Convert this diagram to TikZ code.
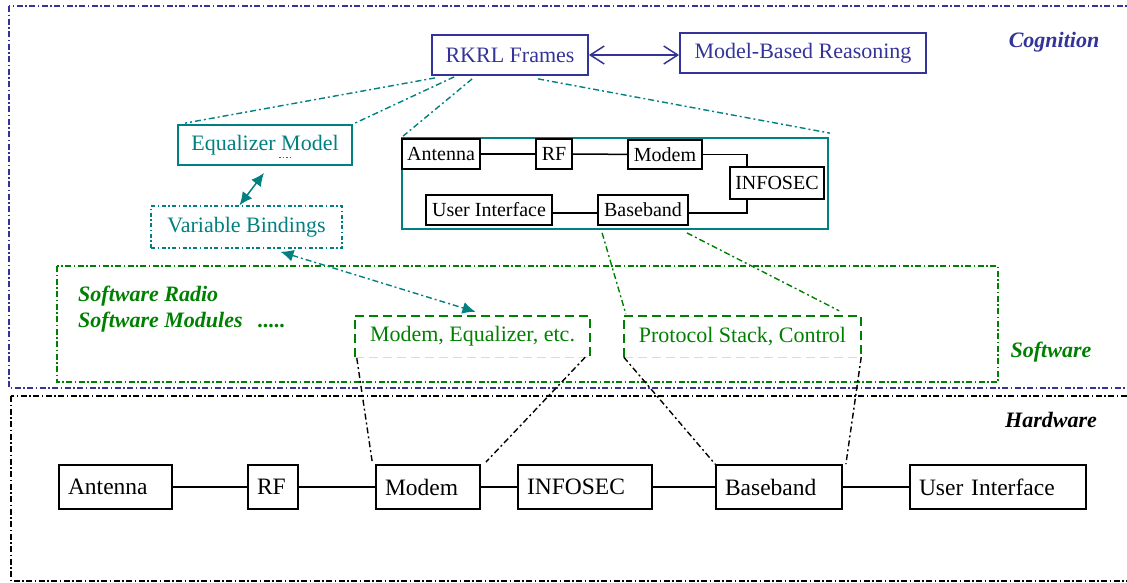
\documentclass[tikz,border=0pt]{standalone}
\usepackage{fontspec}
\setmainfont{Liberation Serif}
\usetikzlibrary{arrows.meta,calc}
\definecolor{cogblue}{RGB}{51,51,153}
\definecolor{kteal}{RGB}{0,128,128}
\definecolor{swgreen}{RGB}{0,128,0}
\begin{document}
\begin{tikzpicture}[x=1pt,y=-1pt,
  big/.style={font=\fontsize{22}{26}\selectfont},
  small/.style={font=\fontsize{20}{24}\selectfont},
  lbl/.style={font=\fontsize{22}{26}\selectfont\bfseries\itshape, inner sep=0pt},
  dashdot/.style={line width=1.5pt, dash pattern=on 6pt off 2.5pt on 1.5pt off 2.5pt},
  link/.style={line width=1.4pt, dash pattern=on 6pt off 3pt on 2pt off 3pt},
  box/.style={draw, line width=1.8pt, inner sep=0pt, big},
  ibox/.style={draw, line width=1.8pt, inner sep=0pt, small, minimum height=30},
  hw/.style={draw, line width=1.8pt, inner xsep=9pt, inner ysep=0pt, minimum height=44,
             text width=#1, align=left, font=\fontsize{23.5}{28}\selectfont},
  swbox/.style={inner sep=0pt, minimum height=41, text=swgreen, big},
  wire/.style={line width=1.5pt},
  swside/.style={swgreen, line width=1.8pt, dash pattern=on 9pt off 5pt},
  swbottom/.style={swgreen!20, line width=1.2pt, dash pattern=on 9pt off 5pt},
  bihead/.style={{Latex[length=13pt,width=12pt]}-{Latex[length=13pt,width=12pt]}},
  barbs/.style={{Straight Barb[length=14pt,width=18pt]}-{Straight Barb[length=14pt,width=18pt]}}
]
\useasboundingbox (0,0) rectangle (1127,582);

% layer frames
\begin{scope}
  \clip (0,0) rectangle (1127,582);
  \draw[cogblue, dashdot] (9,6) rectangle (1140,388);
  \draw[black, dashdot] (11,396) rectangle (1140,581);
\end{scope}
\draw[swgreen, dashdot] (57,266) rectangle (998,382);

% layer names
\node[lbl, text=cogblue, anchor=base] (cog) at (1054,47) {Cognition};
\node[lbl, text=swgreen, anchor=base] (swl) at (1051,357) {Software};
\node[lbl, text=black, anchor=base] (hwl) at (1051,427) {Hardware};

% cognition layer
\node[box, draw=cogblue, text=cogblue, minimum width=156, minimum height=40] (rkrl) at (510,55) {RKRL Frames};
\node[box, draw=cogblue, text=cogblue, minimum width=246, minimum height=40] (mbr) at (803,53) {Model-Based Reasoning};
\draw[cogblue, wire, barbs] (rkrl.east) -- (rkrl.east -| mbr.west);

\node[box, draw=kteal, text=kteal, minimum width=174, minimum height=40] (eq) at (265,145) {Equalizer Model};
\draw[kteal, line width=1pt, dash pattern=on 1.5pt off 2pt] ($(eq.south)+(14,-8)$) -- ($(eq.south)+(26,-8)$);
\node[box, draw=kteal, text=kteal, line width=1.5pt, dash pattern=on 4pt off 2.5pt on 1.5pt off 2.5pt,
      minimum width=191, minimum height=42] (vb) at (246.5,227) {Variable Bindings};
\draw[kteal, line width=1.5pt, bihead] ($(eq.south)+(-1,7)$) -- ($(vb.north)+(-7,0)$);

% radio frame
\node[draw=kteal, line width=1.8pt, inner sep=0pt, minimum width=426, minimum height=91] (frame) at (615,183.5) {};
\node[ibox, minimum width=78] (iant) at (441,154) {Antenna};
\node[ibox, minimum width=36] (irf) at (554,154) {RF};
\node[ibox, minimum width=74, minimum height=29] (imod) at (665,154.5) {Modem};
\node[ibox, minimum width=94, minimum height=32] (iinf) at (777,183) {INFOSEC};
\node[ibox, minimum width=126] (iui) at (489,210) {User Interface};
\node[ibox, minimum width=90] (ibb) at (643,210) {Baseband};
\draw[wire] (iant) -- (irf);
\draw[wire] (irf) -- (imod);
\draw[wire] (imod.east) -| ($(iinf.north west)+(18,0)$);
\draw[wire] ($(iinf.south west)+(18,0)$) |- ($(ibb.east)+(0,3)$);
\draw[wire] ($(ibb.west)+(0,3)$) -- ($(iui.east)+(0,3)$);

% frame links
\draw[kteal, link] ($(rkrl.south west)+(4,2)$) -- ($(eq.north west)+(8,-1)$);
\draw[kteal, link] ($(rkrl.south west)+(23,1)$) -- (eq.north east);
\draw[kteal, link] ($(rkrl.south west)+(41,3)$) -- ($(frame.north west)+(2,-1)$);
\draw[kteal, link] ($(rkrl.south west)+(107,3)$) -- ($(frame.north east)+(1,-4)$);

% software layer
\node[lbl, text=swgreen, anchor=base west] (swr) at (78,301) {Software Radio};
\node[lbl, text=swgreen, anchor=base west] (swm) at (78,327) {Software Modules};
\node[lbl, text=swgreen, anchor=base west] (dots) at (258,327) {.....};

\node[swbox, minimum width=235] (mesw) at (472.5,336.5) {Modem, Equalizer, etc.};
\node[swbox, minimum width=237] (proto) at (742.5,336.5) {Protocol Stack, Control};
\foreach \n in {mesw,proto} {
  \draw[swbottom] (\n.south west) -- (\n.south east);
  \draw[swside] (\n.south west) -- (\n.north west) -- (\n.north east) -- (\n.south east);
}

\draw[kteal, link, bihead] ($(vb.south)+(34,3)$) -- ($(mesw.north)+(3,-4)$);
\draw[swgreen, link] ($(ibb.south west)+(5,7)$) -- ($(proto.north west)+(2,-2)$);
\draw[swgreen, link] ($(ibb.south east)+(-2,7)$) -- ($(proto.north east)+(-22,-5)$);

% hardware layer
\node[hw=95pt] (hant) at (115.5,487) {Antenna};
\node[hw=32pt] (hrf) at (273,487) {RF};
\node[hw=86pt] (hmod) at (428,487) {Modem};
\node[hw=116pt] (hinf) at (585,487) {INFOSEC};
\node[hw=108pt] (hbb) at (779,487) {Baseband};
\node[hw=158pt] (hui) at (998,487) {User Interface};
\draw[wire] (hant) -- (hrf) -- (hmod) -- (hinf) -- (hbb) -- (hui);

% software to hardware mapping
\draw[link] ($(mesw.south west)+(2,1)$) -- ($(hmod.north west)+(-3,-3)$);
\draw[link] ($(mesw.south east)+(-5,0)$) -- ($(hmod.north east)+(5,-2)$);
\draw[link] (proto.south west) -- (hbb.north west);
\draw[link] (proto.south east) -- ($(hbb.north east)+(3,0)$);
\end{tikzpicture}
\end{document}
